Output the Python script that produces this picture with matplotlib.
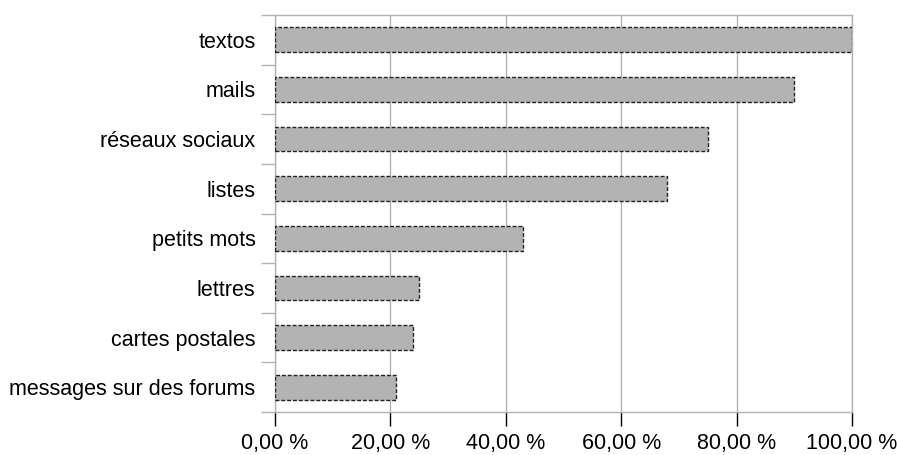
import matplotlib.pyplot as plt
import numpy as np

plt.rcParams['font.family'] = ['Liberation Sans', 'DejaVu Sans']

# données
categories = ['textos', 'mails', 'réseaux sociaux', 'listes', 'petits mots',
              'lettres', 'cartes postales', 'messages sur des forums']
values = [100, 90, 75, 68, 43, 25, 24, 21]
xticks = [0, 20, 40, 60, 80, 100]
xlabels = ['0,00 %', '20,00 %', '40,00 %', '60,00 %', '80,00 %', '100,00 %']

fig = plt.figure(figsize=(8.97, 4.55), dpi=100)
ax = fig.add_axes([275/897, 1-412/455, (852-275)/897, (412-15)/455])

n = len(categories)
y = np.arange(n)[::-1]
ax.barh(y, values, height=0.5, color='#b3b3b3', edgecolor='#222222',
        linestyle=(0, (2.8, 1.4)), linewidth=1.0, zorder=3)

ax.set_xlim(0, 100)
ax.set_ylim(-0.5, n - 0.5)
ax.set_xticks(xticks)
ax.set_xticklabels(xlabels)
ax.set_yticks(y)
ax.set_yticklabels(categories)
# ticks aux limites des catégories
ax.set_yticks(np.arange(n + 1) - 0.5, minor=True)
ax.tick_params(axis='y', which='major', length=0, pad=14)
ax.tick_params(axis='y', which='minor', length=10, color='#b3b3b3', width=1)
ax.tick_params(axis='x', length=10, color='#b3b3b3', width=1, pad=5)
ax.tick_params(labelsize=15.5, colors='black')

ax.grid(axis='x', color='#b3b3b3', linewidth=1, zorder=0)
for s in ax.spines.values():
    s.set_color('#b3b3b3')
    s.set_linewidth(1)

fig.savefig('out.png', dpi=100)
